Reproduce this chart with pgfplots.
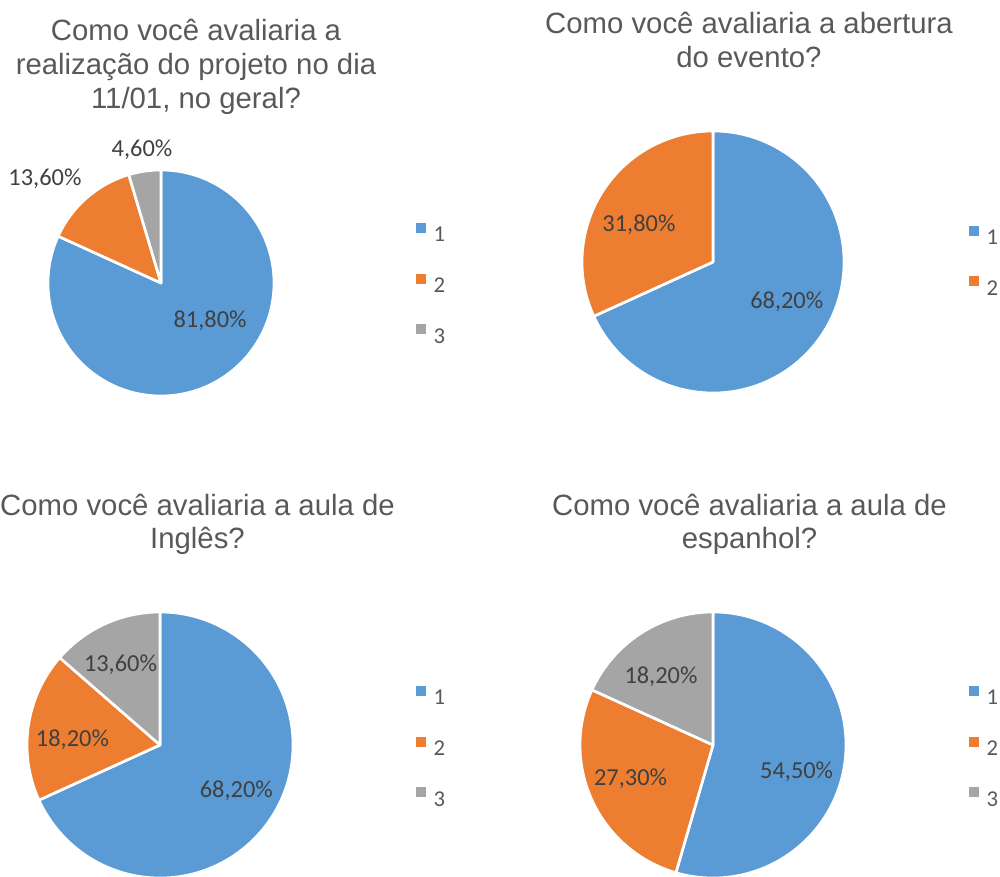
\documentclass[border=0pt]{standalone}
\usepackage{pgfplots}
\pgfplotsset{compat=1.18}
\usepackage{fontspec}
\setmainfont{Liberation Sans}
\newfontfamily\calfont{Carlito}
\definecolor{cBlue}{HTML}{5B9BD5}
\definecolor{cOrange}{HTML}{ED7D31}
\definecolor{cGray}{HTML}{A5A5A5}
\definecolor{cTitle}{HTML}{595959}
\definecolor{cLabel}{HTML}{404040}
% slice: start (%), value (%), colour, radius (canvas)
\newcommand\slice[4]{%
  \fill[#3,draw=white,line width=2pt,line join=round]
    (axis cs:0,0) -- (axis cs:{cos(90-3.6*#1)},{sin(90-3.6*#1)})
    arc[start angle={90-3.6*#1}, end angle={90-3.6*(#1+#2)}, radius=#4] -- cycle;}
\newcommand\lbl[3]{\node[lblstyle] at (axis cs:#1,#2) {#3};}
\newcommand\legfont{\calfont\fontsize{17}{20}\selectfont}
\tikzset{
  lblstyle/.style={inner sep=0pt, anchor=center, text height=11.5pt, text depth=0pt,
    text=cLabel, font=\calfont\fontsize{18.3}{22}\selectfont},
  ttl/.style={anchor=base, inner sep=0pt, text=cTitle, font=\fontsize{22}{26}\selectfont}
}
\pgfplotsset{pieaxis/.style={
  hide axis, clip=false, anchor=origin,
  xmin=-1, xmax=1, ymin=-1, ymax=1,
  legend image code/.code={\fill[##1] (0pt,1.8pt) rectangle (6.8pt,8.6pt);},
  legend cell align=left,
  legend style={draw=none, fill=none, anchor=west, inner sep=0pt,
    row sep=23.8pt, column sep=5.8pt, text=cTitle,
    font=\legfont,
    nodes={inner sep=0pt, text height=10.7pt, text depth=0pt, font=\legfont}},
}}
\begin{document}
\begin{tikzpicture}[x=0.75pt,y=-0.75pt]
\path[use as bounding box] (0,0) rectangle (1000,877);
% titles
\node[ttl] at (196,41) {Como você avaliaria a};
\node[ttl] at (196,75) {realização do projeto no dia};
\node[ttl] at (196,109) {11/01, no geral?};
\node[ttl] at (749,33.5) {Como você avaliaria a abertura};
\node[ttl] at (749,67.5) {do evento?};
\node[ttl] at (197.5,515) {Como você avaliaria a aula de};
\node[ttl] at (197.5,548.5) {Inglês?};
\node[ttl] at (749.5,515) {Como você avaliaria a aula de};
\node[ttl] at (749.5,548.5) {espanhol?};
\coordinate (c1) at (161,283);
\coordinate (c2) at (713,262);
\coordinate (c3) at (160,745);
\coordinate (c4) at (713,745);
% chart 1
\begin{axis}[pieaxis, at={(c1)}, x=84.75pt, y=84.75pt,
  legend style={at={(axis cs:2.257,0)}}]
\slice{0}{81.8}{cBlue}{84.75pt}
\slice{81.8}{13.6}{cOrange}{84.75pt}
\slice{95.4}{4.6}{cGray}{84.75pt}
\lbl{0.434}{-0.330}{81,80\%}
\lbl{-1.027}{0.934}{13,60\%}
\lbl{-0.168}{1.186}{4,60\%}
\addlegendimage{cBlue}\addlegendentry{1}
\addlegendimage{cOrange}\addlegendentry{2}
\addlegendimage{cGray}\addlegendentry{3}
\end{axis}
% chart 2
\begin{axis}[pieaxis, at={(c2)}, x=98.25pt, y=98.25pt,
  legend style={at={(axis cs:1.954,0.011)}}]
\slice{0}{68.2}{cBlue}{98.25pt}
\slice{68.2}{31.8}{cOrange}{98.25pt}
\lbl{-0.565}{0.292}{31,80\%}
\lbl{0.563}{-0.296}{68,20\%}
\addlegendimage{cBlue}\addlegendentry{1}
\addlegendimage{cOrange}\addlegendentry{2}
\end{axis}
% chart 3
\begin{axis}[pieaxis, at={(c3)}, x=99.75pt, y=99.75pt,
  legend style={at={(axis cs:1.925,-0.008)}}]
\slice{0}{68.2}{cBlue}{99.75pt}
\slice{68.2}{18.2}{cOrange}{99.75pt}
\slice{86.4}{13.6}{cGray}{99.75pt}
\lbl{-0.297}{0.611}{13,60\%}
\lbl{-0.658}{0.047}{18,20\%}
\lbl{0.574}{-0.335}{68,20\%}
\addlegendimage{cBlue}\addlegendentry{1}
\addlegendimage{cOrange}\addlegendentry{2}
\addlegendimage{cGray}\addlegendentry{3}
\end{axis}
% chart 4
\begin{axis}[pieaxis, at={(c4)}, x=99.75pt, y=99.75pt,
  legend style={at={(axis cs:1.925,-0.008)}}]
\slice{0}{54.5}{cBlue}{99.75pt}
\slice{54.5}{27.3}{cOrange}{99.75pt}
\slice{81.8}{18.2}{cGray}{99.75pt}
\lbl{-0.391}{0.523}{18,20\%}
\lbl{-0.620}{-0.244}{27,30\%}
\lbl{0.629}{-0.192}{54,50\%}
\addlegendimage{cBlue}\addlegendentry{1}
\addlegendimage{cOrange}\addlegendentry{2}
\addlegendimage{cGray}\addlegendentry{3}
\end{axis}
\end{tikzpicture}
\end{document}
